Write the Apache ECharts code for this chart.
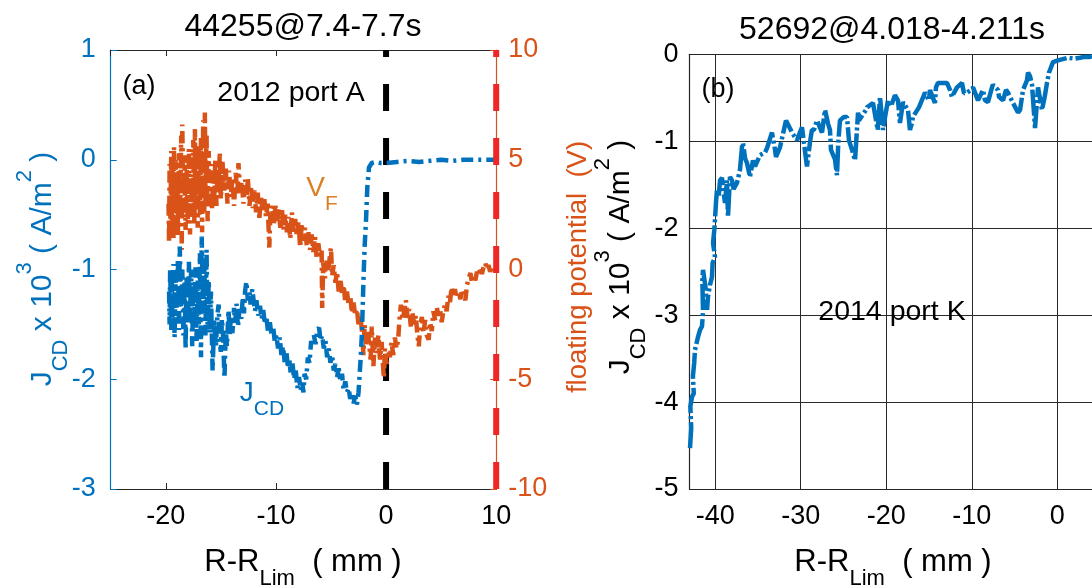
<!DOCTYPE html>
<html>
<head>
<meta charset="utf-8">
<script src="https://cdn.jsdelivr.net/npm/echarts@6/dist/echarts.min.js"></script>
<style>
  html, body { margin: 0; padding: 0; background: #fff; }
  #chart { width: 1092px; height: 586px; }
</style>
</head>
<body>
<div id="chart"></div>
<script>
// Panel (a): shot 44255, 2012 port A — probe scan, [R-R_Lim (mm), value]
const jcdA = [
  [-19.7, -1.2], [-19.65, -1.5], [-19.6, -0.99], [-19.5, -1.55], [-19.45, -1.1], [-19.4, -1.45],
  [-19.3, -0.95], [-19.2, -1.62], [-19.1, -1.05], [-19.0, -1.4], [-18.9, -0.9], [-18.8, -1.55],
  [-18.73, -0.79], [-18.6, -1.35], [-18.5, -1.0], [-18.4, -1.6], [-18.28, -1.1], [-18.2, -1.72],
  [-18.1, -1.05], [-18.0, -1.5], [-17.9, -0.93], [-17.8, -1.45], [-17.7, -1.0], [-17.6, -1.7],
  [-17.5, -1.15], [-17.4, -1.55], [-17.3, -0.98], [-17.2, -1.65], [-17.1, -1.1], [-17.0, -1.5],
  [-16.9, -0.85], [-16.8, -1.8], [-16.74, -0.70], [-16.6, -1.4], [-16.5, -0.9], [-16.4, -1.6],
  [-16.3, -0.82], [-16.2, -1.5], [-16.1, -1.1], [-16.0, -1.58], [-15.9, -1.2], [-15.75, -1.92],
  [-15.6, -1.45], [-15.45, -1.7], [-15.3, -1.4], [-15.2, -1.32], [-15.1, -1.65], [-15.0, -1.75],
  [-14.9, -1.45], [-14.8, -1.6], [-14.67, -1.99], [-14.55, -1.55], [-14.45, -1.7], [-14.3, -1.37],
  [-14.2, -1.6], [-14.1, -1.45], [-13.95, -1.58], [-13.8, -1.35], [-13.7, -1.5], [-13.58, -1.31],
  [-13.45, -1.52], [-13.3, -1.36], [-13.15, -1.45], [-13.0, -1.25], [-12.9, -1.4], [-12.8, -1.2],
  [-12.68, -1.11], [-12.55, -1.28], [-12.4, -1.2], [-12.3, -1.32], [-12.15, -1.18], [-12.0, -1.3],
  [-11.9, -1.38], [-11.77, -1.28], [-11.6, -1.42], [-11.45, -1.33], [-11.3, -1.45], [-11.15, -1.37],
  [-11.0, -1.5], [-10.87, -1.43], [-10.7, -1.58], [-10.55, -1.48], [-10.4, -1.6], [-10.25, -1.52],
  [-10.1, -1.66], [-9.96, -1.6], [-9.8, -1.72], [-9.65, -1.62], [-9.5, -1.78], [-9.35, -1.7],
  [-9.2, -1.85], [-9.05, -1.75], [-8.9, -1.9], [-8.79, -1.82], [-8.65, -1.95], [-8.5, -1.85],
  [-8.35, -2.0], [-8.2, -1.92], [-8.05, -2.08], [-7.9, -1.98], [-7.75, -2.1], [-7.61, -2.03],
  [-7.5, -2.12], [-7.4, -1.95], [-7.25, -2.0], [-7.1, -1.8], [-6.95, -1.85], [-6.8, -1.65],
  [-6.7, -1.7], [-6.55, -1.6], [-6.4, -1.68], [-6.25, -1.55], [-6.08, -1.53], [-5.95, -1.65],
  [-5.8, -1.6], [-5.65, -1.72], [-5.5, -1.65], [-5.35, -1.8], [-5.2, -1.72], [-5.05, -1.85],
  [-4.9, -1.78], [-4.75, -1.92], [-4.6, -1.86], [-4.45, -1.98], [-4.3, -1.9], [-4.15, -2.02],
  [-4.0, -1.95], [-3.85, -2.1], [-3.7, -2.02], [-3.55, -2.12], [-3.4, -2.08], [-3.25, -2.18],
  [-3.1, -2.12], [-2.95, -2.22], [-2.8, -2.15], [-2.64, -2.23], [-2.5, -2.12], [-2.3, -1.8],
  [-2.19, -1.58], [-2.05, -1.1], [-1.95, -0.8], [-1.82, -0.55], [-1.7, -0.25], [-1.55, -0.07],
  [-1.3, -0.03], [-0.92, -0.02], [-0.5, -0.03], [0, -0.03], [1, -0.02], [2, -0.01], [3, -0.02],
  [4, -0.01], [5, 0.0], [6, -0.01], [7, 0.0], [8, 0.0], [9, 0.0], [10, 0.0]
];

const vfA = [
  [-19.75, 3.0], [-19.7, 1.2], [-19.65, 4.8], [-19.6, 1.7], [-19.5, 5.4], [-19.45, 2.2], [-19.4, 4.9],
  [-19.3, 1.4], [-19.25, 5.6], [-19.2, 2.6], [-19.1, 5.0], [-19.0, 1.9], [-18.95, 4.4], [-18.9, 1.5],
  [-18.8, 5.3], [-18.7, 2.3], [-18.6, 6.1], [-18.55, 0.9], [-18.5, 6.6], [-18.4, 2.8], [-18.3, 5.2],
  [-18.2, 1.8], [-18.1, 4.6], [-18.0, 2.1], [-17.9, 5.5], [-17.8, 1.6], [-17.7, 4.2], [-17.6, 2.4],
  [-17.5, 5.9], [-17.4, 2.0], [-17.35, 6.4], [-17.3, 2.9], [-17.2, 5.1], [-17.1, 1.9], [-17.0, 5.7],
  [-16.9, 2.5], [-16.8, 6.0], [-16.7, 1.7], [-16.6, 6.8], [-16.5, 2.6], [-16.45, 7.15], [-16.4, 3.0],
  [-16.3, 6.2], [-16.2, 2.2], [-16.1, 5.4], [-16.0, 3.1], [-15.9, 4.8], [-15.8, 2.7], [-15.7, 4.4],
  [-15.6, 3.3], [-15.5, 5.0], [-15.4, 2.9], [-15.3, 4.6], [-15.2, 3.4], [-15.1, 5.35],
  [-15.0, 3.2], [-14.85, 4.9], [-14.7, 3.6], [-14.55, 4.6], [-14.4, 3.0], [-14.25, 4.5], [-14.1, 3.3],
  [-13.95, 4.2], [-13.8, 2.9], [-13.65, 4.4], [-13.5, 3.4], [-13.4, 4.85], [-13.25, 3.5], [-13.1, 4.0],
  [-12.95, 3.0], [-12.8, 4.1], [-12.65, 3.4], [-12.55, 4.15], [-12.4, 2.9], [-12.25, 3.8], [-12.1, 2.8],
  [-11.95, 3.6], [-11.8, 2.6], [-11.65, 3.5], [-11.5, 2.35], [-11.35, 3.3], [-11.2, 2.6], [-11.05, 3.2],
  [-10.9, 2.4], [-10.75, 3.0], [-10.6, 1.0], [-10.5, 2.6], [-10.35, 2.9], [-10.2, 2.0], [-10.05, 2.9],
  [-9.9, 2.2], [-9.75, 2.8], [-9.6, 1.9], [-9.45, 2.7], [-9.3, 1.8], [-9.15, 2.5], [-9.0, 1.7],
  [-8.85, 2.4], [-8.7, 1.4], [-8.55, 2.6], [-8.4, 1.6], [-8.25, 2.3], [-8.1, 1.5], [-7.95, 2.2],
  [-7.8, 1.0], [-7.65, 2.1], [-7.5, 1.3], [-7.35, 1.9], [-7.2, 1.1], [-7.05, 1.7], [-6.9, 0.9],
  [-6.75, 1.6], [-6.6, 0.8], [-6.45, 1.5], [-6.3, 0.5], [-6.15, 1.2], [-6.0, 0.6], [-5.85, 0.9],
  [-5.8, -1.75], [-5.7, 0.3], [-5.55, -0.4], [-5.4, 0.4], [-5.25, -0.1], [-5.1, 0.6], [-5.0, 1.0],
  [-4.9, -0.3], [-4.75, 0.2], [-4.6, -0.6], [-4.45, -0.1], [-4.3, -1.0], [-4.15, -0.4], [-4.0, -1.1],
  [-3.85, -0.7], [-3.7, -1.5], [-3.55, -1.0], [-3.4, -1.6], [-3.25, -1.2], [-3.1, -2.0], [-2.95, -1.5],
  [-2.8, -2.1], [-2.65, -1.8], [-2.5, -2.5], [-2.35, -2.1], [-2.2, -2.7], [-2.05, -3.9], [-1.95, -2.5],
  [-1.8, -3.4], [-1.65, -2.8], [-1.5, -3.6], [-1.4, -4.1], [-1.3, -2.6], [-1.15, -4.4], [-1.0, -3.1],
  [-0.85, -3.8], [-0.7, -3.0], [-0.55, -4.1], [-0.4, -3.3], [-0.3, -4.2], [-0.2, -4.95], [-0.1, -3.6],
  [0.05, -4.3], [0.2, -3.7], [0.35, -4.0], [0.5, -3.3], [0.65, -3.9], [0.8, -3.1], [0.95, -3.6],
  [1.1, -3.2], [1.2, -2.4], [1.35, -1.6], [1.5, -2.3], [1.65, -1.9], [1.8, -1.4], [1.95, -2.2],
  [2.1, -1.8], [2.25, -2.6], [2.4, -2.0], [2.55, -2.5], [2.7, -2.1], [2.85, -3.0], [2.97, -3.5],
  [3.1, -2.6], [3.25, -2.16], [3.4, -2.9], [3.55, -2.3], [3.7, -3.0], [3.87, -3.2], [4.0, -2.4],
  [4.15, -2.8], [4.3, -1.9], [4.45, -2.3], [4.6, -1.7], [4.75, -2.1], [4.9, -1.8], [5.05, -2.4],
  [5.2, -1.9], [5.35, -1.6], [5.5, -1.9], [5.65, -1.2], [5.8, -1.5], [5.95, -0.8], [6.1, -1.2],
  [6.25, -0.9], [6.4, -1.3], [6.58, -1.0], [6.75, -1.35], [6.9, -0.9], [7.05, -1.2], [7.2, -1.4],
  [7.35, -0.7], [7.5, -0.4], [7.66, -0.16], [7.8, -0.6], [7.95, -0.3], [8.11, -0.5], [8.25, -0.1],
  [8.4, -0.3], [8.56, 0.11], [8.7, -0.2], [8.85, 0.1], [9.01, 0.3], [9.15, 0.0], [9.3, 0.2],
  [9.45, -0.1], [9.6, 0.1], [9.75, -0.05], [9.93, 0.2]
];

// Panel (b): shot 52692, 2014 port K
const jcdB = [
  [-42.94, -4.53], [-42.8, -4.3], [-42.9, -4.05], [-42.71, -3.94], [-42.5, -3.9], [-42.6, -3.7],
  [-42.45, -3.55], [-42.36, -3.4], [-42.0, -3.25], [-41.77, -3.17], [-41.54, -3.13], [-41.42, -2.96],
  [-41.5, -2.6], [-41.42, -2.48], [-41.1, -2.7], [-40.95, -2.94], [-40.84, -2.79], [-40.6, -2.65],
  [-40.37, -2.56], [-40.3, -2.4], [-40.02, -2.33], [-40.25, -2.17], [-40.1, -2.02], [-40.02, -1.9],
  [-39.9, -1.7], [-39.79, -1.56], [-39.6, -1.64], [-39.43, -1.45], [-39.2, -1.42], [-39.0, -1.6],
  [-38.85, -1.71], [-38.62, -1.45], [-38.5, -1.87], [-38.27, -1.41], [-38.03, -1.45], [-37.85, -1.55],
  [-37.68, -1.52], [-37.45, -1.48], [-37.1, -1.33], [-36.86, -1.06], [-36.75, -1.02], [-36.5, -1.2],
  [-36.28, -1.25], [-35.93, -1.41], [-35.58, -1.22], [-35.34, -1.29], [-34.76, -1.16], [-34.17, -1.13],
  [-33.94, -1.08], [-33.36, -0.9], [-33.0, -1.1], [-32.89, -1.18], [-32.77, -1.18], [-32.42, -1.07],
  [-31.72, -0.76], [-31.6, -0.78], [-31.02, -0.9], [-30.43, -0.99], [-30.1, -0.9], [-29.85, -0.84],
  [-29.62, -1.02], [-29.27, -1.29], [-28.9, -1.0], [-28.69, -0.87], [-28.45, -0.87], [-28.1, -0.76],
  [-27.51, -0.9], [-27.16, -0.64], [-26.8, -0.8], [-26.58, -0.87], [-26.46, -1.1], [-25.99, -1.21],
  [-25.76, -1.39], [-25.6, -1.0], [-25.41, -0.76], [-24.94, -0.72], [-24.59, -0.72], [-24.36, -0.99],
  [-24.0, -1.1], [-23.65, -1.22], [-23.54, -1.22], [-23.3, -0.67], [-23.19, -0.76], [-22.37, -0.64],
  [-22.25, -0.61], [-21.55, -0.56], [-21.0, -0.87], [-20.73, -0.49], [-20.38, -0.87], [-20.1, -0.7],
  [-19.8, -0.53], [-19.45, -0.6], [-18.98, -0.47], [-18.63, -0.53], [-18.4, -0.79], [-18.04, -0.55],
  [-17.46, -0.64], [-17.23, -0.87], [-17.0, -0.79], [-16.88, -0.72], [-16.18, -0.61], [-16.06, -0.61],
  [-15.47, -0.44], [-15.01, -0.53], [-14.89, -0.41], [-14.31, -0.56], [-14.19, -0.38], [-13.96, -0.33],
  [-13.37, -0.33], [-12.9, -0.33], [-12.55, -0.41], [-12.32, -0.49], [-11.73, -0.38], [-11.15, -0.33],
  [-10.91, -0.45], [-10.56, -0.44], [-10.1, -0.41], [-9.86, -0.38], [-9.28, -0.53], [-8.69, -0.41],
  [-8.46, -0.53], [-8.11, -0.55], [-7.64, -0.38], [-7.53, -0.35], [-6.94, -0.41], [-6.82, -0.49],
  [-6.35, -0.53], [-6.0, -0.41], [-5.77, -0.44], [-5.18, -0.56], [-4.6, -0.67], [-4.36, -0.64],
  [-4.01, -0.41], [-3.55, -0.3], [-3.43, -0.21], [-3.2, -0.25], [-2.96, -0.35], [-2.61, -0.85],
  [-2.26, -0.38], [-2.14, -0.4], [-1.8, -0.64], [-1.5, -0.5], [-1.21, -0.33], [-0.98, -0.21],
  [-0.86, -0.18], [-0.51, -0.09], [0.07, -0.07], [0.3, -0.07], [1.24, -0.04], [1.47, -0.03],
  [2.0, -0.05], [2.64, -0.04], [3.2, -0.03], [3.8, -0.03], [4.05, -0.02]
];

// Reference lines in panel (a): limiter position and right edge
const limiterLine = [[0, -3], [0, 1]];
const edgeLine = [[10, -3], [10, 1]];

const FONT = '"Liberation Sans", Arial, Helvetica, sans-serif';
const BLUE = '#0072BD';
const ORANGE = '#D95319';
const AXIS = '#262626';

function richLabel(size, subSize, color, lineHeight) {
  return {
    m: { fontSize: size, fontFamily: FONT, lineHeight: lineHeight, verticalAlign: 'middle', fill: color },
    sub: { fontSize: subSize, fontFamily: FONT, lineHeight: subSize, verticalAlign: 'bottom', fill: color },
    sup: { fontSize: subSize, fontFamily: FONT, lineHeight: subSize, verticalAlign: 'top', fill: color }
  };
}

function plainText(x, y, text, size, color) {
  return {
    type: 'text', x: x, y: y, z: 100,
    style: { text: text, fontSize: size, fontFamily: FONT, fill: color, align: 'center', verticalAlign: 'middle' }
  };
}

function richText(x, y, text, size, subSize, color, lineHeight, rotation) {
  return {
    type: 'text', x: x, y: y, z: 100, rotation: rotation || 0,
    style: { text: text, fill: color, align: 'center', verticalAlign: 'middle', rich: richLabel(size, subSize, color, lineHeight) }
  };
}

const yLabel = '{m|J}{sub|CD}{m| x 10}{sup|3}{m| ( A/m}{sup|2}{m| )}';
const xLabel = '{m|R-R}{sub|Lim}{m|  ( mm )}';

const dashDot = [12, 5, 3, 5];

function xAxisBase(grid, min, max, pos) {
  return {
    gridIndex: grid, type: 'value', min: min, max: max, position: pos,
    axisLine: { onZero: false, lineStyle: { color: AXIS, width: 1.2 } },
    axisTick: { inside: true, length: 6, lineStyle: { color: AXIS } },
    splitLine: { show: false }
  };
}

const chart = echarts.init(document.getElementById('chart'), null, { renderer: 'canvas' });

const xa = xAxisBase(0, -25, 10, 'bottom');
xa.axisLabel = { showMinLabel: false, color: '#000', fontSize: 27, fontFamily: FONT, margin: 14 };
const xaTop = xAxisBase(0, -25, 10, 'top');
xaTop.axisLabel = { show: false };
const xb = xAxisBase(1, -43, 4.05, 'bottom');
xb.axisLabel = { showMinLabel: false, showMaxLabel: false, color: '#000', fontSize: 27, fontFamily: FONT, margin: 14 };
xb.splitLine = { show: true, lineStyle: { color: '#2a2a2a', width: 1 } };
const xbTop = xAxisBase(1, -43, 4.05, 'top');
xbTop.axisTick = { show: false };
xbTop.axisLabel = { show: false };

chart.setOption({
  animation: false,
  backgroundColor: '#fff',
  grid: [
    { left: 110.7, top: 50, width: 385.5, height: 439 },
    { left: 689.5, top: 54.3, right: 0, height: 434.7 }
  ],
  xAxis: [xa, xaTop, xb, xbTop],
  yAxis: [
    {
      gridIndex: 0, type: 'value', min: -3, max: 1, interval: 1, position: 'left',
      axisLine: { show: true, onZero: false, lineStyle: { color: BLUE, width: 1.2 } },
      axisTick: { show: true, inside: true, length: 6, lineStyle: { color: BLUE } },
      axisLabel: { color: BLUE, fontSize: 27, fontFamily: FONT, margin: 15 },
      splitLine: { show: false }
    },
    {
      gridIndex: 0, type: 'value', min: -10, max: 10, interval: 5, position: 'right',
      axisLine: { show: true, onZero: false, lineStyle: { color: ORANGE, width: 1.2 } },
      axisTick: { show: true, inside: true, length: 6, lineStyle: { color: ORANGE } },
      axisLabel: { color: ORANGE, fontSize: 27, fontFamily: FONT, margin: 12 },
      splitLine: { show: false }
    },
    {
      gridIndex: 1, type: 'value', min: -5, max: 0, interval: 1, position: 'left',
      axisLine: { show: true, onZero: false, lineStyle: { color: AXIS, width: 1.2 } },
      axisTick: { show: true, inside: true, length: 6, lineStyle: { color: AXIS } },
      axisLabel: { color: '#000', fontSize: 27, fontFamily: FONT, margin: 11 },
      splitLine: { show: true, lineStyle: { color: '#2a2a2a', width: 1 } }
    }
  ],
  series: [
    {
      name: 'limiter', type: 'line', xAxisIndex: 0, yAxisIndex: 0, data: limiterLine,
      showSymbol: false, silent: true, clip: false, z: 1,
      lineStyle: { color: '#000', width: 6, type: [27, 27], cap: 'butt' }
    },
    {
      name: 'edge', type: 'line', xAxisIndex: 0, yAxisIndex: 0, data: edgeLine,
      showSymbol: false, silent: true, clip: false, z: 3,
      lineStyle: { color: '#EE2626', width: 6, type: [27, 27], cap: 'butt' }
    },
    {
      name: 'V_F', type: 'line', xAxisIndex: 0, yAxisIndex: 1, data: vfA,
      showSymbol: false, silent: true, z: 2,
      lineStyle: { color: ORANGE, width: 4.5, type: dashDot }
    },
    {
      name: 'J_CD (a)', type: 'line', xAxisIndex: 0, yAxisIndex: 0, data: jcdA,
      showSymbol: false, silent: true, z: 2,
      lineStyle: { color: BLUE, width: 4.5, type: dashDot }
    },
    {
      name: 'J_CD (b)', type: 'line', xAxisIndex: 2, yAxisIndex: 2, data: jcdB,
      showSymbol: false, silent: true, z: 2,
      lineStyle: { color: BLUE, width: 4.5, type: [26, 3, 3, 3] }
    }
  ],
  graphic: [
    plainText(303, 27, '44255@7.4-7.7s', 32, '#000'),
    plainText(892, 30, '52692@4.018-4.211s', 32, '#000'),
    plainText(139, 87, '(a)', 27, '#000'),
    plainText(291, 93, '2012 port A', 28.5, '#000'),
    plainText(718, 90, '(b)', 27, '#000'),
    plainText(892, 312, '2014 port K', 28.5, '#000'),
    richText(322, 188, '{m|V}{sub|F}', 28, 21, '#DB7F26', 54),
    richText(262, 393, '{m|J}{sub|CD}', 28, 21, BLUE, 54),
    richText(303, 562, xLabel, 31, 22, '#000', 56),
    richText(893, 562, xLabel, 31, 22, '#000', 56),
    richText(43, 269, yLabel, 30, 22, BLUE, 58, Math.PI / 2),
    richText(621, 257, yLabel, 30, 22, '#000', 58, Math.PI / 2),
    {
      type: 'text', x: 578, y: 267, z: 100, rotation: Math.PI / 2,
      style: { text: 'floating potential  (V)', fontSize: 27.5, fontFamily: FONT, fill: ORANGE, align: 'center', verticalAlign: 'middle' }
    }
  ]
});
</script>
</body>
</html>
